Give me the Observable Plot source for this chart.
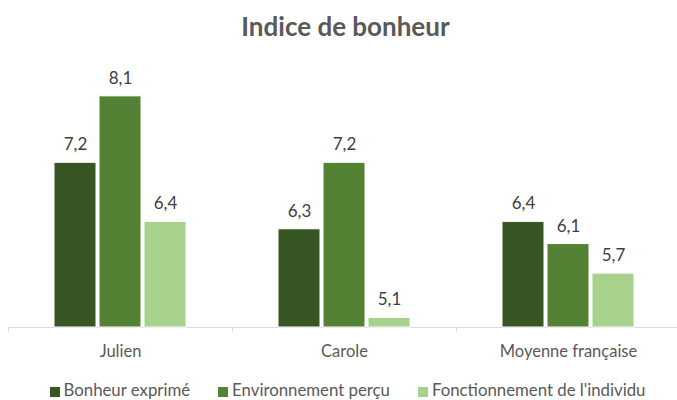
<!DOCTYPE html>
<html>
<head>
<meta charset="utf-8">
<script src="https://cdn.jsdelivr.net/npm/d3@7"></script>
<script src="https://cdn.jsdelivr.net/npm/@observablehq/plot@0.6"></script>
<style>
  body { margin: 0; background: #fff; font-family: Lato, "Open Sans", sans-serif; }
  #wrap { width: 677px; height: 400px; position: relative; overflow: hidden; }
  #title { height: 48px; line-height: 48px; text-align: center; font-weight: bold; font-size: 26px; color: #595959; padding-left: 14px; padding-top: 2px; }
  #legend { display: flex; justify-content: center; gap: 28px; font-size: 16.8px; color: #595959; height: 36px; line-height: 36px; padding-left: 18px; padding-top: 8px; }
  #legend .item { display: flex; align-items: center; }
  #legend .sw { width: 10px; height: 10px; margin-right: 4px; margin-top: 3px; display: inline-block; }
</style>
</head>
<body>
<div id="wrap">
  <div id="title">Indice de bonheur</div>
  <div id="chart"></div>
  <div id="legend"></div>
</div>
<script>
const categories = ["Julien", "Carole", "Moyenne française"];
const series = ["Bonheur exprimé", "Environnement perçu", "Fonctionnement de l'individu"];
const bonheurExprime = [7.2, 6.3, 6.4];
const environnementPercu = [8.1, 7.2, 6.1];
const fonctionnementIndividu = [6.4, 5.1, 5.7];
const colors = ["#375623", "#548235", "#A9D18E"];

const seriesValues = [bonheurExprime, environnementPercu, fonctionnementIndividu];
const data = [];
series.forEach((s, si) => categories.forEach((c, ci) => data.push({category: c, series: s, value: seriesValues[si][ci]})));

const yMin = 4.97;
const offsets = [-45, 0, 45];
const barMarks = [];
series.forEach((s, si) => {
  const subset = data.filter(d => d.series === s);
  barMarks.push(Plot.barY(subset, {x: "category", y1: yMin, y2: "value", fill: colors[si], stroke: "white", strokeWidth: 1, dx: offsets[si], insetLeft: 91, insetRight: 91}));
  barMarks.push(Plot.text(subset, {x: "category", y: "value", text: d => String(d.value.toFixed(1)).replace(".", ","), dx: offsets[si], dy: -18, fontSize: 17, fill: "#404040"}));
});

const chart = Plot.plot({
  width: 677,
  height: 314,
  marginTop: 20,
  marginBottom: 37,
  marginLeft: 8,
  marginRight: 0,
  style: {fontFamily: "Lato, 'Open Sans', sans-serif"},
  x: {domain: categories, range: [8, 680], padding: 0, axis: null},
  y: {domain: [yMin, 8.45], axis: null},
  marks: [
    Plot.ruleY([yMin], {stroke: "#d9d9d9", strokeWidth: 1}),
    Plot.ruleX(categories, {x: d => d, dx: -112, y1: yMin, y2: yMin, insetBottom: -5, stroke: "#d9d9d9"}),
    ...barMarks,
    Plot.axisX({domain: categories, tickSize: 0, tickPadding: 18, fontSize: 16.5, color: "#595959", label: null})
  ]
});
document.getElementById("chart").appendChild(chart);

const legend = document.getElementById("legend");
series.forEach((s, i) => {
  const item = document.createElement("div");
  item.className = "item";
  const sw = document.createElement("span");
  sw.className = "sw";
  sw.style.background = colors[i];
  item.appendChild(sw);
  item.appendChild(document.createTextNode(s));
  legend.appendChild(item);
});
</script>
</body>
</html>
